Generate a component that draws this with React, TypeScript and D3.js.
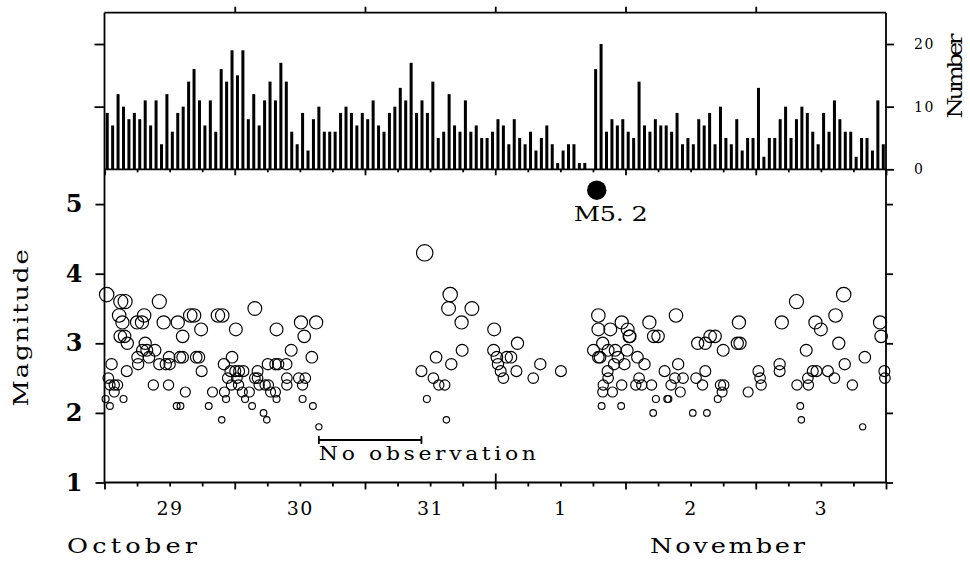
import React, { useEffect, useRef } from 'react';
import * as d3 from 'd3';

// hourly number of events, starting Oct 29 00:00 (144 hours)
const hourlyCounts = [
  9, 7, 12, 10, 8, 9, 8, 11, 7, 11, 4, 12, 6, 9, 10, 14, 16, 11, 7, 11, 6, 16, 14, 19,
  15, 19, 8, 12, 7, 11, 14, 11, 17, 14, 6, 4, 9, 3, 8, 10, 6, 6, 6, 9, 10, 9, 7,
  9, 8, 11, 7, 6, 9, 10, 13, 11, 17, 9, 11, 9, 14, 5, 6, 12, 7, 6, 11, 6, 7, 5, 5, 6,
  8, 7, 4, 8, 5, 4, 6, 3, 5, 7, 4, 1, 3, 4, 4, 1, 1, 0, 16, 20,
  6, 8, 7, 8, 6, 5, 14, 7, 6, 8, 7, 7, 6, 9, 4, 5, 4, 8, 7, 9, 4, 10, 5, 4, 8, 3, 5, 5,
  13, 2, 5, 5, 8, 10, 5, 8, 10, 9, 6, 4, 9, 6, 11, 8, 6, 6, 2, 5, 5, 3, 11, 4,
];

// event times (hours after Oct 29 00:00) and magnitudes
const eqHour = [
  0.4, 0.7, 1.3, 0.2, 1.0, 1.0, 1.8, 2.4, 1.8, 3.5, 3.0, 3.8, 2.7, 3.3, 2.9, 3.7, 4.2, 4.1,
  6.0, 6.9, 7.3, 7.5, 7.0, 7.8, 9.3, 6.1, 6.2, 8.2, 9.0, 10.1, 10.9, 10.1, 11.3, 12.0, 11.9,
  11.8, 13.5, 14.4, 13.9, 14.4, 14.9, 13.3, 14.0, 15.8, 16.5, 16.9, 17.4, 17.8, 17.9, 19.2,
  19.9, 20.9, 21.7, 22.0, 21.6, 22.1, 22.4, 22.7, 23.2, 24.1, 24.8, 25.6, 23.5, 24.2, 24.4,
  23.4, 24.7, 25.4, 25.9, 26.7, 27.2, 27.7, 27.7, 28.2, 28.2, 28.5, 29.6, 30.2, 29.3, 29.9,
  30.1, 31.5, 32.0, 33.5, 30.6, 31.5, 31.7, 31.7, 33.6, 33.6, 34.4, 35.8, 37.0, 36.5, 36.5,
  36.2, 36.8, 38.2, 38.4, 39.0, 39.5,
  59.0, 58.4, 59.4, 60.6, 61.1, 61.6, 62.7, 63.0, 63.7, 63.4, 63.9, 65.8, 65.9, 67.7, 71.8,
  71.7, 72.3, 72.5, 73.0, 73.5, 74.1, 74.9, 76.1, 75.9, 79.0, 80.3, 84.1,
  91.0, 91.0, 90.1, 91.0, 91.3, 91.8, 93.2, 92.8, 94.1, 94.6, 92.7, 92.8, 93.9, 95.8, 91.9,
  91.8, 93.6, 91.6, 95.2, 95.3, 96.4, 96.7, 96.8, 96.3, 95.3, 98.2, 99.5, 98.5, 97.9, 99.0,
  100.8, 100.4, 101.2, 102.0, 103.2, 101.6, 101.1, 103.7, 103.9, 105.3, 105.7, 105.1, 106.6,
  104.4, 106.1, 108.4, 109.0, 109.3, 110.7, 110.2, 110.7, 111.0, 111.6, 112.5, 114.0, 113.0,
  113.5, 114.1, 113.8, 116.9, 116.6, 117.1, 118.6, 120.5, 120.8, 121.0, 124.4, 124.4, 124.8,
  127.5, 127.6, 128.2, 128.4, 129.3, 129.6, 129.7, 130.5, 131.2, 131.0, 132.0, 133.3, 134.5,
  134.7, 136.2, 135.3, 136.4, 137.8, 139.7, 140.1, 142.9, 143.1, 143.7, 143.8,
];
const eqMag = [
  3.7, 2.5, 2.7, 2.2, 2.1, 2.4, 2.4, 2.4, 2.3, 2.2, 3.6, 3.6, 3.4, 3.3, 3.1, 3.1, 3.0, 2.6,
  3.3, 3.3, 3.4, 3.0, 2.9, 2.9, 2.9, 2.8, 2.7, 2.8, 2.4, 3.6, 3.3, 2.7, 2.7, 2.7, 2.8,
  2.4, 3.3, 3.1, 2.8, 2.8, 2.3, 2.1, 2.1, 3.4, 3.4, 2.8, 2.8, 3.2, 2.6, 2.1,
  2.3, 3.4, 3.4, 2.7, 1.9, 2.3, 2.2, 2.5, 2.6, 2.6, 2.6, 2.6, 2.8, 3.2, 2.5,
  2.4, 2.4, 2.3, 2.2, 2.3, 2.1, 3.5, 2.5, 2.5, 2.6, 2.4, 2.4, 2.4, 2.0, 1.9,
  2.7, 2.7, 2.7, 2.7, 2.3, 2.3, 2.2, 3.2, 2.5, 2.4, 2.9, 2.5, 2.5, 2.4, 2.2,
  3.3, 3.1, 2.8, 2.1, 3.3, 1.8,
  4.3, 2.6, 2.2, 2.5, 2.8, 2.4, 2.4, 1.9, 3.7, 3.5, 2.7, 3.3, 2.9, 3.5, 3.2,
  2.9, 2.8, 2.7, 2.6, 2.5, 2.8, 2.8, 3.0, 2.6, 2.5, 2.7, 2.6,
  3.4, 3.2, 2.9, 2.8, 2.8, 3.0, 3.2, 2.9, 2.9, 2.8, 2.6, 2.5, 2.7, 2.7, 2.4,
  2.3, 2.3, 2.1, 2.1, 3.3, 3.2, 3.1, 3.1, 2.9, 2.4, 2.8, 2.7, 2.5, 2.4, 2.4,
  2.4, 3.3, 3.1, 3.1, 2.6, 2.2, 2.0, 2.2, 2.2, 3.4, 2.7, 2.5, 2.5,
  2.4, 2.3, 2.0, 2.5, 3.0, 3.0, 2.4, 2.6, 2.0, 3.1, 3.1, 2.9, 2.2,
  2.4, 2.4, 2.3, 3.3, 3.0, 3.0, 2.3, 2.6, 2.5, 2.4, 2.7, 2.6, 3.3,
  3.6, 2.4, 2.1, 1.9, 2.9, 2.5, 2.4, 2.6, 2.6, 3.3, 3.2, 2.6, 2.5,
  3.4, 3.7, 3.0, 2.7, 2.4, 1.8, 2.8, 3.3, 3.1, 2.6, 2.5,
];

const mainShock = { hour: 90.7, mag: 5.2, label: 'M5. 2' };
const noObsHours = [39.5, 58.4];
const noObsLabel = 'No observation';
const dayLabels = ['29', '30', '31', '1', '2', '3'];
const monthLabels = ['October', 'November'];
const magTicks = [1, 2, 3, 4, 5];
const countTicks = [0, 10, 20];

const W = 970;
const H = 563;
const X0 = 104.5;
const X1 = 886;
const YT = 12.7;
const YMID = 169.3;
const YB = 482.5;
const FONT = "'DejaVu Serif', serif";

export default function App() {
  const ref = useRef<SVGSVGElement>(null);

  useEffect(() => {
    const svg = d3.select(ref.current);
    svg.selectAll('*').remove();

    const x = d3.scaleLinear().domain([0, 144]).range([X0, X1]);
    const yN = d3.scaleLinear().domain([0, 25]).range([YMID, YT]);
    const yM = d3.scaleLinear().domain([1, 5.5]).range([YB, YMID]);

    const six = d3.range(0, 145, 6).filter((h) => h % 24 !== 0);
    const days = d3.range(0, 145, 24);
    const noons = d3.range(12, 144, 24);

    const styleAxis = (g: any) => {
      g.select('.domain').remove();
      g.selectAll('line').attr('stroke', '#000').attr('stroke-width', 1.8);
    };

    // wide "typewriter" text: glyphs stretched horizontally, then spaced to a width
    const wideText = (
      tx: number, ty: number, str: string, size: number, width: number,
      opts: { anchor?: string; rotate?: boolean; sx?: number } = {}
    ) => {
      const sx = opts.sx ?? 1.22;
      const g = svg.append('g').attr(
        'transform',
        `translate(${tx},${ty})${opts.rotate ? ' rotate(-90)' : ''} scale(${sx},1)`
      );
      g.append('text')
        .attr('x', 0).attr('y', 0)
        .attr('text-anchor', opts.anchor ?? 'start')
        .attr('font-family', FONT).attr('font-size', size)
        .attr('textLength', width / sx).attr('lengthAdjust', 'spacing')
        .attr('fill', '#000')
        .text(str);
    };

    // bars
    svg
      .append('g')
      .selectAll('rect')
      .data(hourlyCounts)
      .join('rect')
      .attr('x', (_d: number, i: number) => x(i + 0.5) - 1.5)
      .attr('width', 3)
      .attr('y', (d: number) => yN(d))
      .attr('height', (d: number) => yN(0) - yN(d))
      .attr('fill', '#000');

    // frame
    const frame = svg.append('g').attr('stroke', '#000').attr('stroke-width', 1.8);
    frame.append('line').attr('x1', X0).attr('x2', X0).attr('y1', YT).attr('y2', YB);
    frame.append('line').attr('x1', X1).attr('x2', X1).attr('y1', YT).attr('y2', YB);
    frame.append('line').attr('x1', X0).attr('x2', X1).attr('y1', YT).attr('y2', YT);
    frame.append('line').attr('x1', X0).attr('x2', X1).attr('y1', YMID).attr('y2', YMID);
    frame.append('line').attr('x1', X0).attr('x2', X1).attr('y1', YB).attr('y2', YB);

    // top border day ticks
    svg.append('g').attr('transform', `translate(0,${YT})`)
      .call(d3.axisTop(x).tickValues(days.slice(1, -1)).tickSize(6).tickFormat(() => ''))
      .call(styleAxis);
    // histogram baseline ticks
    svg.append('g').attr('transform', `translate(0,${YMID})`)
      .call(d3.axisBottom(x).tickValues(six).tickSize(3).tickFormat(() => ''))
      .call(styleAxis);
    svg.append('g').attr('transform', `translate(0,${YMID})`)
      .call(d3.axisBottom(x).tickValues(days).tickSize(6).tickFormat(() => ''))
      .call(styleAxis);
    // bottom axis ticks
    svg.append('g').attr('transform', `translate(0,${YB})`)
      .call(d3.axisBottom(x).tickValues(six).tickSize(4).tickFormat(() => ''))
      .call(styleAxis);
    svg.append('g').attr('transform', `translate(0,${YB})`)
      .call(d3.axisBottom(x).tickValues(days).tickSize(7).tickFormat(() => ''))
      .call(styleAxis);
    svg.append('g').attr('transform', `translate(0,${YB})`)
      .call(d3.axisTop(x).tickValues([72]).tickSize(9).tickFormat(() => ''))
      .call(styleAxis);
    // day labels
    const dl = svg.append('g').attr('transform', `translate(0,${YB})`)
      .call(d3.axisBottom(x).tickValues(noons).tickSize(0).tickPadding(19)
        .tickFormat((_d: any, i: number) => dayLabels[i]));
    dl.select('.domain').remove();
    dl.selectAll('text').attr('font-family', FONT).attr('font-size', 19)
      .attr('letter-spacing', 1.5).attr('fill', '#000');

    // magnitude axes
    const la = svg.append('g').attr('transform', `translate(${X0},0)`)
      .call(d3.axisLeft(yM).tickValues(magTicks).tickSize(9).tickPadding(13).tickFormat(d3.format('d')))
      .call(styleAxis);
    la.selectAll('text').attr('font-family', FONT).attr('font-size', 24)
      .attr('font-weight', 'bold').attr('fill', '#000');
    svg.append('g').attr('transform', `translate(${X1},0)`)
      .call(d3.axisRight(yM).tickValues(magTicks).tickSize(7).tickFormat(() => ''))
      .call(styleAxis);

    // count axes
    svg.append('g').attr('transform', `translate(${X0},0)`)
      .call(d3.axisLeft(yN).tickValues([10, 20]).tickSize(10).tickFormat(() => ''))
      .call(styleAxis);
    const ra = svg.append('g').attr('transform', `translate(${X1},0)`)
      .call(d3.axisRight(yN).tickValues(countTicks).tickSize(8).tickPadding(20).tickFormat(d3.format('d')))
      .call(styleAxis);
    ra.selectAll('text').attr('font-family', FONT).attr('font-size', 14)
      .attr('letter-spacing', 1.5).attr('fill', '#000');

    // circles
    const r = (m: number) => (m < 2.3 ? 1.5 + 0.9 * m : 1.6 * m + 1.3);
    svg.append('g')
      .selectAll('circle')
      .data(eqHour.map((h, i) => ({ h, m: eqMag[i] })))
      .join('circle')
      .attr('cx', (d: any) => x(d.h))
      .attr('cy', (d: any) => yM(d.m))
      .attr('r', (d: any) => r(d.m))
      .attr('fill', 'none')
      .attr('stroke', '#000')
      .attr('stroke-width', 1.15);

    // main shock
    svg.append('circle')
      .attr('cx', x(mainShock.hour)).attr('cy', yM(mainShock.mag)).attr('r', 9.7).attr('fill', '#000');
    wideText(x(mainShock.hour) - 23, yM(mainShock.mag) + 31, mainShock.label, 21, 74);

    // no observation
    const noY = 440;
    const ng = svg.append('g').attr('stroke', '#000').attr('stroke-width', 1.8);
    ng.append('line').attr('x1', x(noObsHours[0])).attr('x2', x(noObsHours[1])).attr('y1', noY).attr('y2', noY);
    ng.append('line').attr('x1', x(noObsHours[0])).attr('x2', x(noObsHours[0])).attr('y1', noY - 4).attr('y2', noY + 4);
    ng.append('line').attr('x1', x(noObsHours[1])).attr('x2', x(noObsHours[1])).attr('y1', noY - 4).attr('y2', noY + 4);
    wideText(x(noObsHours[0]), 460, noObsLabel, 18, 217);

    // month labels
    wideText(67, 553, monthLabels[0], 21, 130);
    wideText(650, 553, monthLabels[1], 21, 155);

    // axis titles
    wideText(28, (yM(1) + yM(5.5)) / 2 + 2, 'Magnitude', 21, 157, { anchor: 'middle', rotate: true });
    wideText(962, 76, 'Number', 20, 85, { anchor: 'middle', rotate: true });
  }, []);

  return (
    <svg
      ref={ref}
      width={W}
      height={H}
      style={{ position: 'absolute', left: 0, top: 0, background: '#fff', display: 'block' }}
    />
  );
}
